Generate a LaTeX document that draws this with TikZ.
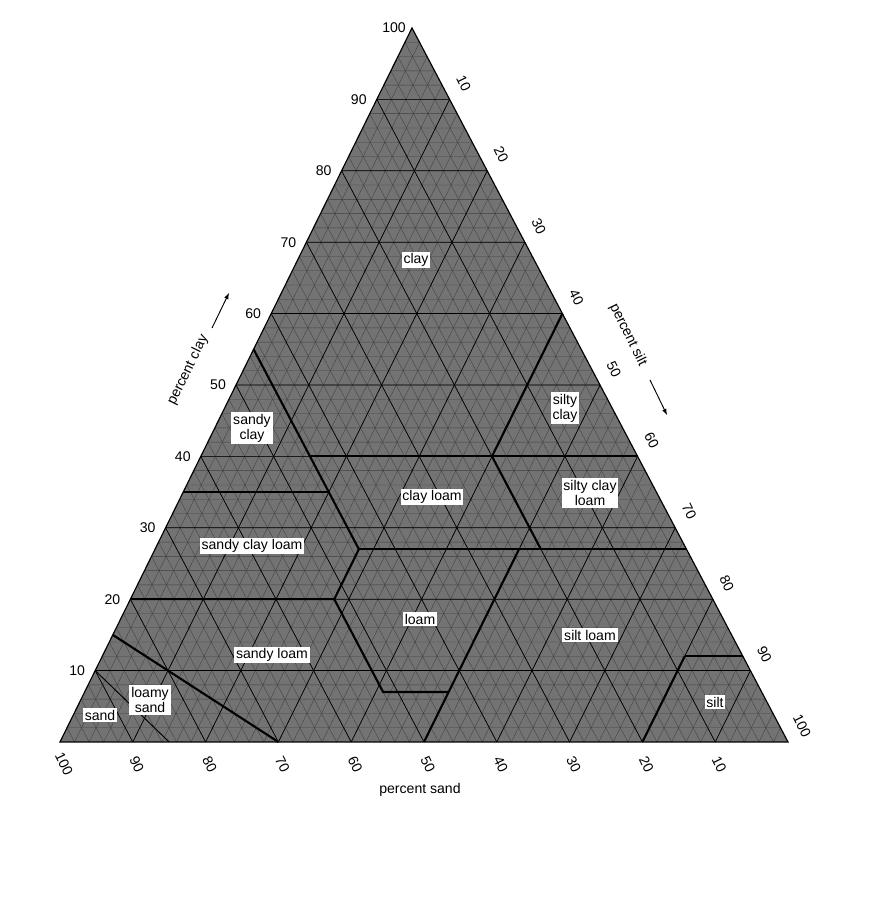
\documentclass[tikz,border=0pt]{standalone}
\usepackage{fontspec}
\setmainfont{Liberation Sans}
\usetikzlibrary{calc}
% point du triangle : #1 = sable, #2 = argile, #3 = nom
\newcommand{\pnt}[3]{\coordinate (#3) at ({788-7.28*(#1)-3.76*(#2)},{158+7.14*(#2)});}
\begin{document}
\begin{tikzpicture}[x=0.03cm,y=0.03cm,
    classe/.style={fill=white,inner sep=1.5pt,font=\fontsize{12}{13}\selectfont,align=center},
    graduation/.style={font=\fontsize{12}{13}\selectfont},
    limite/.style={line width=1.8pt},
    fine/.style={black!75,line width=0.3pt}]
  \useasboundingbox (0,0) rectangle (872,900);%

  % Coordonnées
  \pnt{0}{100}{T}\pnt{100}{0}{G}\pnt{0}{0}{D}%

  % Fond et trame
  \fill[black!55] (T) -- (G) -- (D) -- cycle;%
  \foreach \v in {2,4,...,98}{%
    \pnt{100-\v}{\v}{a1}\pnt{0}{\v}{a2}%
    \pnt{\v}{0}{b1}\pnt{\v}{100-\v}{b2}%
    \pnt{100-\v}{0}{c1}\pnt{0}{100-\v}{c2}%
    \draw[fine] (a1) -- (a2) (b1) -- (b2) (c1) -- (c2);%
  }
  \foreach \v in {10,20,...,90}{%
    \pnt{100-\v}{\v}{a1}\pnt{0}{\v}{a2}%
    \pnt{\v}{0}{b1}\pnt{\v}{100-\v}{b2}%
    \pnt{100-\v}{0}{c1}\pnt{0}{100-\v}{c2}%
    \draw[line width=0.6pt] (a1) -- (a2) (b1) -- (b2) (c1) -- (c2);%
  }
  \draw[line width=1pt] (T) -- (G) -- (D) -- cycle;%

  % Limites des classes
  \pnt{45}{55}{p1}\pnt{45}{27}{p2}\pnt{45}{40}{p3}\pnt{0}{40}{p4}%
  \pnt{0}{60}{p5}\pnt{20}{40}{p6}\pnt{20}{27}{p7}\pnt{0}{27}{p8}%
  \pnt{65}{35}{p9}\pnt{45}{35}{p10}\pnt{80}{20}{p11}\pnt{52}{20}{p12}%
  \pnt{52}{7}{p13}\pnt{43}{7}{p14}\pnt{50}{0}{p15}\pnt{23}{27}{p16}%
  \pnt{8}{12}{p17}\pnt{0}{12}{p18}\pnt{20}{0}{p19}\pnt{85}{15}{p20}%
  \pnt{70}{0}{p21}\pnt{90}{10}{p22}\pnt{85}{0}{p23}%
  \draw[limite] (p1) -- (p2);%
  \draw[limite] (p3) -- (p4);%
  \draw[limite] (p5) -- (p6) -- (p7);%
  \draw[limite] (p2) -- (p8);%
  \draw[limite] (p9) -- (p10);%
  \draw[limite] (p11) -- (p12) -- (p13) -- (p14);%
  \draw[limite] (p12) -- (p2);%
  \draw[limite] (p15) -- (p16);%
  \draw[limite] (p17) -- (p18);%
  \draw[limite] (p19) -- (p17);%
  \draw[limite] (p20) -- (p21);%
  \draw[line width=0.8pt] (p22) -- (p23);%

  % Noms des classes
  \node[classe] (clay) at (416,640) {clay};%
  \node[classe] (siltyclay) at (565,492) {silty\\clay};%
  \node[classe] (sandyclay) at (252,472) {sandy\\clay};%
  \node[classe] (siltyclayloam) at (590,407) {silty clay\\loam};%
  \node[classe] (clayloam) at (432,403) {clay loam};%
  \node[classe] (sandyclayloam) at (252,354) {sandy clay loam};%
  \node[classe] (loam) at (420,281) {loam};%
  \node[classe] (siltloam) at (590,265) {silt loam};%
  \node[classe] (sandyloam) at (272,245) {sandy loam};%
  \node[classe] (loamysand) at (150,200) {loamy\\sand};%
  \node[classe] (sand) at (100,185) {sand};%
  \node[classe] (silt) at (715,198) {silt};%

  % Graduations
  \foreach \v in {10,20,...,100}{%
    \pnt{100-\v}{\v}{g1}\pnt{0}{100-\v}{g2}\pnt{\v}{0}{g3}%
    \node[graduation] at ($(g1)+(-18,0)$) {\v};%
    \node[graduation,rotate=-64] at ($(g2)+(14,16)$) {\v};%
    \node[graduation,rotate=-64] at ($(g3)+(4,-22)$) {\v};%
  }

  % Titres des axes
  \node[graduation,rotate=64] (pclay) at (188,530) {percent clay};%
  \draw[-latex,line width=0.8pt] (212,572) -- (229,607);%
  \node[graduation,rotate=-64] (psilt) at (628,565) {percent silt};%
  \draw[-latex,line width=0.8pt] (650,520) -- (667,485);%
  \node[graduation] (psand) at (420,110) {percent sand};%
\end{tikzpicture}
\end{document}
